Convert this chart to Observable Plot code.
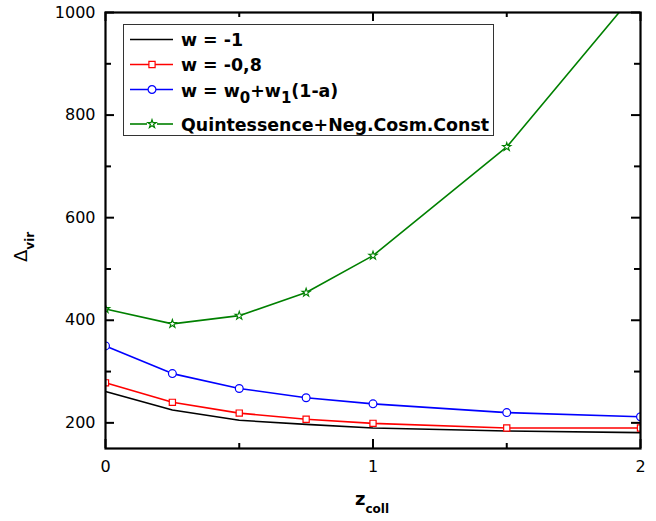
<!DOCTYPE html>
<html>
<head>
<meta charset="utf-8">
<script src="https://cdn.jsdelivr.net/npm/d3@7"></script>
<script src="https://cdn.jsdelivr.net/npm/@observablehq/plot@0.6"></script>
<style>
  html, body { margin: 0; padding: 0; background: #fff; }
  #wrap { position: relative; width: 656px; height: 521px; font-family: "DejaVu Sans", Verdana, sans-serif; }
  #overlay { position: absolute; left: 0; top: 0; pointer-events: none; }
</style>
</head>
<body>
<div id="wrap"></div>
<script>
// ---- data ----
const zColl = [0, 0.25, 0.5, 0.75, 1, 1.5, 2];
const wMinus1 = [261, 225, 205, 197, 190, 184, 181];
const wMinus08 = [278, 240, 219, 207, 199, 190, 190];
const wCPL = [350, 296, 267, 249, 237, 220, 212];
const quintNeg = [422, 393, 409, 454, 526, 738, 1050];

const seriesNames = ["w = -1", "w = -0,8", "w = w0+w1(1-a)", "Quintessence+Neg.Cosm.Const"];
const seriesColors = ["#000000", "#ff0000", "#0000ff", "#008000"];
const seriesValues = [wMinus1, wMinus08, wCPL, quintNeg];

const xMajor = [0, 1, 2];
const xMinor = [0.5, 1.5];
const yMajor = [200, 400, 600, 800, 1000];
const yMinor = [300, 500, 700, 900];

// ---- table ----
const rows = seriesNames.flatMap((name, i) =>
  zColl.map((z, j) => ({series: name, z, v: seriesValues[i][j], color: seriesColors[i]})));
const bySeries = name => rows.filter(d => d.series === name);

const W = 656, H = 521, mL = 105, mR = 16, mT = 12, mB = 73;
const pw = W - mL - mR, ph = H - mT - mB;
const font = "DejaVu Sans, Verdana, sans-serif";
const rSq = 3.5, rCi = 3.9, rSt = 2.6;

const plot = Plot.plot({
  width: W, height: H,
  marginLeft: mL, marginRight: mR, marginTop: mT, marginBottom: mB,
  style: {fontFamily: font, fontSize: "16px", background: "white", overflow: "visible"},
  x: {domain: [0, 2]},
  y: {domain: [150, 1000]},
  marks: [
    ...seriesNames.map((n, i) => Plot.line(bySeries(n), {x: "z", y: "v", stroke: seriesColors[i], strokeWidth: 1.6, clip: true})),
    Plot.dot(bySeries(seriesNames[1]), {x: "z", y: "v", symbol: "square", r: rSq, stroke: seriesColors[1], fill: "white", strokeWidth: 1.2, clip: true}),
    Plot.dot(bySeries(seriesNames[2]), {x: "z", y: "v", symbol: "circle", r: rCi, stroke: seriesColors[2], fill: "white", strokeWidth: 1.2, clip: true}),
    Plot.dot(bySeries(seriesNames[3]), {x: "z", y: "v", symbol: "star", r: rSt, stroke: seriesColors[3], fill: "white", strokeWidth: 1.1, clip: true}),
    // inward ticks
    Plot.tickX(xMajor, {x: d => d, insetTop: ph - 9, stroke: "black", strokeWidth: 2}),
    Plot.tickX(xMajor, {x: d => d, insetBottom: ph - 9, stroke: "black", strokeWidth: 2}),
    Plot.tickX(xMinor, {x: d => d, insetTop: ph - 5, stroke: "black", strokeWidth: 2}),
    Plot.tickX(xMinor, {x: d => d, insetBottom: ph - 5, stroke: "black", strokeWidth: 2}),
    Plot.tickY(yMajor, {y: d => d, insetRight: pw - 9, stroke: "black", strokeWidth: 2}),
    Plot.tickY(yMajor, {y: d => d, insetLeft: pw - 9, stroke: "black", strokeWidth: 2}),
    Plot.tickY(yMinor, {y: d => d, insetRight: pw - 6, stroke: "black", strokeWidth: 2}),
    Plot.tickY(yMinor, {y: d => d, insetLeft: pw - 6, stroke: "black", strokeWidth: 2}),
    Plot.axisX(xMajor, {tickSize: 0, tickPadding: 12, fontSize: 16, fontFamily: font, label: null, tickFormat: d => String(d)}),
    Plot.axisY(yMajor, {tickSize: 0, tickPadding: 10, fontSize: 16, fontFamily: font, label: null, tickFormat: d => String(d)}),
    Plot.frame({stroke: "black", strokeWidth: 2.2})
  ]
});

const wrap = document.getElementById("wrap");
wrap.appendChild(plot);

// ---- overlay: axis titles and legend ----
const ns = "http://www.w3.org/2000/svg";
const ov = d3.select(wrap).append("svg").attr("id", "overlay")
  .attr("width", W).attr("height", H).attr("xmlns", ns)
  .style("font-family", font);

// x title: z_coll
const xt = ov.append("text").attr("x", 355).attr("y", 505).attr("fill", "black");
xt.append("tspan").attr("font-size", 18).attr("font-weight", "bold").text("z");
xt.append("tspan").attr("font-size", 12).attr("font-weight", "bold").attr("dy", 8).text("coll");

// y title: Δ_vir
const yt = ov.append("text").attr("transform", "translate(27,262) rotate(-90)").attr("fill", "black");
yt.append("tspan").attr("font-size", 18).text("Δ");
yt.append("tspan").attr("font-size", 12).attr("font-weight", "bold").attr("dy", 7).text("vir");

// legend
const lg = ov.append("g");
lg.append("rect").attr("x", 123.5).attr("y", 24.5).attr("width", 370).attr("height", 111)
  .attr("fill", "white").attr("stroke", "#333").attr("stroke-width", 1);
const rowY = [39.5, 64.5, 89.5, 124];
const baseY = [45.5, 71, 96.5, 130.5];
const sym = (type, r) => d3.symbol(type, Math.PI * r * r)();
seriesNames.forEach((n, i) => {
  const c = seriesColors[i];
  if (i === 3) {
    lg.append("line").attr("x1", 130).attr("x2", 147).attr("y1", rowY[i]).attr("y2", rowY[i]).attr("stroke", c).attr("stroke-width", 1.6);
    lg.append("line").attr("x1", 157).attr("x2", 173).attr("y1", rowY[i]).attr("y2", rowY[i]).attr("stroke", c).attr("stroke-width", 1.6);
  } else {
    lg.append("line").attr("x1", 130).attr("x2", 173).attr("y1", rowY[i]).attr("y2", rowY[i]).attr("stroke", c).attr("stroke-width", 1.6);
  }
  if (i > 0) {
    const type = i === 1 ? d3.symbolSquare : i === 2 ? d3.symbolCircle : d3.symbolStar;
    const r = i === 1 ? rSq : i === 2 ? rCi : rSt;
    lg.append("path").attr("d", sym(type, r)).attr("transform", `translate(152,${rowY[i]})`)
      .attr("fill", "white").attr("stroke", c).attr("stroke-width", 1.2);
  }
  const t = lg.append("text").attr("x", 181).attr("y", baseY[i]).attr("font-size", 17.4)
    .attr("font-weight", "bold").attr("fill", "black");
  if (i === 2) {
    t.append("tspan").text("w = w");
    t.append("tspan").attr("font-size", 15).attr("dy", 6).text("0");
    t.append("tspan").attr("dy", -6).text("+w");
    t.append("tspan").attr("font-size", 15).attr("dy", 6).text("1");
    t.append("tspan").attr("dy", -6).text("(1-a)");
  } else {
    t.text(n);
  }
});
</script>
</body>
</html>
